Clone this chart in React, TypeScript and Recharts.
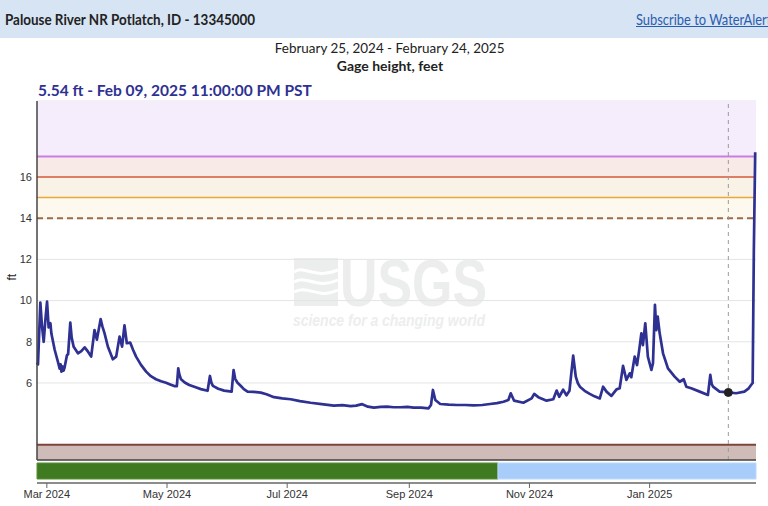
import React from 'react';
import {
  LineChart,
  Line,
  XAxis,
  YAxis,
  CartesianGrid,
  ReferenceArea,
  ReferenceLine,
  ReferenceDot,
  ComposedChart,
} from 'recharts';

// Period shown: February 25, 2024 (day 0) to February 24, 2025 (day 365)
const START_DATE = '2024-02-25';
const END_DAY = 365;

// Gage height readings (day offset from START_DATE, feet)
const dayOffsets = [
  0, 0.5, 1.7, 2.5, 3.4, 4.2, 5.1, 5.9, 6.8, 7.3, 9.0, 10.7, 11.5, 12.0, 12.4, 13.0, 13.5, 14.0,
  15.2, 15.8, 16.9, 17.6, 18.6, 20.8, 22.5, 24.2, 25.9, 27.5, 29.2, 30.4, 32.3, 33.2, 34.3, 36.0,
  38.5, 40.2, 41.9, 43.2, 44.4, 45.6, 47.3, 48.8, 50.3, 52.8, 55.4, 57.8, 60.4, 63.0, 65.5, 67.6,
  69.7, 71.0, 71.7, 72.3, 73.1, 75.0, 77.3, 80.2, 83.2, 86.6, 87.8, 88.5, 89.3, 92.0, 95.0, 98.8,
  99.8, 100.6, 101.8, 103.5, 105.0, 106.9, 110.0, 113.6, 116.5, 120.3, 124.5, 128.8, 133.5,
  138.9, 144.5, 150.7, 155.0, 159.2, 162.0, 165.1, 168.0, 171.0, 174.5, 177.7, 181.0, 184.5,
  188.0, 191.2, 195.0, 198.8, 200.0, 201.0, 202.2, 204.7, 209.0, 213.2, 217.5, 221.6, 226.0,
  230.0, 233.5, 236.8, 239.3, 240.5, 242.2, 246.9, 251.1, 252.4, 254.5, 258.7, 262.1, 263.8,
  265.1, 267.1, 268.8, 270.3, 272.2, 273.5, 274.5, 275.6, 278.0, 280.6, 283.0, 285.7, 287.4,
  289.1, 291.6, 294.2, 295.8, 297.5, 299.2, 300.9, 301.7, 303.4, 304.6, 305.6, 306.8, 307.6,
  308.8, 310.1, 311.9, 312.7, 313.7, 314.4, 315.1, 316.1, 317.8, 320.3, 323.7, 326.3, 328.3,
  329.6, 332.1, 336.4, 340.6, 341.8, 342.5, 343.2, 346.5, 350.96, 354.9, 359.1, 361.3, 362.5,
  363.3, 363.9, 364.6,
];
const gageFt = [
  7.0, 6.9, 9.9, 8.8, 8.0, 9.0, 9.95, 8.7, 8.9, 8.4, 7.6, 7.0, 6.7, 6.9, 6.55, 6.8, 6.6, 6.75,
  7.35, 7.4, 8.93, 8.2, 7.76, 7.44, 7.55, 7.73, 7.52, 7.28, 8.57, 8.1, 9.1, 8.75, 8.41, 7.76,
  7.15, 7.28, 8.25, 7.76, 8.8, 7.93, 7.96, 7.6, 7.28, 6.88, 6.55, 6.33, 6.18, 6.08, 6.01, 5.93,
  5.85, 5.85, 6.71, 6.4, 6.18, 6.02, 5.9, 5.8, 5.7, 5.62, 6.34, 6.02, 5.86, 5.72, 5.63, 5.58,
  6.63, 6.2, 6.01, 5.85, 5.7, 5.58, 5.57, 5.53, 5.45, 5.31, 5.25, 5.21, 5.12,
  5.04, 4.97, 4.9, 4.92, 4.88, 4.9, 4.97, 4.85, 4.8, 4.84, 4.85, 4.82, 4.82,
  4.84, 4.8, 4.8, 4.77, 4.93, 5.66, 5.17, 4.98, 4.95, 4.93, 4.93, 4.91, 4.93,
  4.98, 5.02, 5.09, 5.17, 5.5, 5.14, 5.04, 5.25, 5.47, 5.31, 5.14, 5.21, 5.63,
  5.33, 5.67, 5.4, 5.62, 7.33, 6.31, 6.0, 5.82, 5.62, 5.47, 5.35, 5.25, 5.82,
  5.58, 5.37, 5.69, 5.74, 6.83, 6.15, 6.47, 6.28, 7.28, 6.87, 7.52, 8.41, 7.84,
  8.9, 7.28, 6.63, 6.96, 9.79, 8.57, 9.22, 8.41, 7.44, 6.71, 6.31, 6.06, 6.18,
  5.82, 5.74, 5.58, 5.42, 6.39, 5.95, 5.82, 5.58, 5.54, 5.5, 5.58, 5.74, 5.9,
  6.0, 12.4, 17.2,
];

// Axis ticks
const xTickDays = [5, 66, 127, 189, 250, 311];
const xTickLabels = ['Mar 2024', 'May 2024', 'Jul 2024', 'Sep 2024', 'Nov 2024', 'Jan 2025'];
const yTicks = [6, 8, 10, 12, 14, 16];
const Y_MIN = 2.26;
const Y_MAX = 19.69;

// Flood thresholds (ft)
const majorFlood = 17;
const moderateFlood = 16;
const minorFlood = 15;
const actionStage = 14;
const lowStage = 3;

// Selected point
const cursorDay = 350.96;
const cursorFt = 5.54;

// Approval status segments (day offsets)
const approvalFrom = [0, 234];
const approvalTo = [234, END_DAY];
const approvalStatus = ['Approved', 'Provisional'];
const approvalColors = ['#3f7a20', '#a9cdfb'];
const approvalEdges = ['#5a8f3a', '#bcd8fc'];

const lineData = dayOffsets.map((d, i) => ({ day: d, ft: gageFt[i] }));
const stripData = [
  { day: 0, v: 0.5 },
  { day: END_DAY, v: 0.5 },
];

const tickFont = { fontFamily: '"Liberation Sans", Arial, sans-serif', fontSize: 11, fill: '#333' };

function Watermark() {
  const c = '#eceeed';
  return (
    <svg
      width={200}
      height={80}
      style={{ position: 'absolute', left: 292, top: 254, zIndex: 0 }}
    >
      <rect x={2} y={4} width={44} height={48} fill={c} />
      <path d="M2 18 C12 10, 22 26, 46 16" stroke="#fff" strokeWidth={3} fill="none" />
      <path d="M2 28 C14 20, 24 36, 46 26" stroke="#fff" strokeWidth={3} fill="none" />
      <path d="M2 38 C16 30, 26 46, 46 36" stroke="#fff" strokeWidth={3} fill="none" />
      <text
        x={48}
        y={52}
        fontFamily='"Liberation Sans", Arial, sans-serif'
        fontWeight="bold"
        fontSize={66}
        fill={c}
        textLength={147}
        lengthAdjust="spacingAndGlyphs"
      >
        USGS
      </text>
      <text
        x={1}
        y={72}
        fontFamily='"Liberation Sans", Arial, sans-serif'
        fontWeight="bold"
        fontStyle="italic"
        fontSize={16}
        fill={c}
        textLength={192}
        lengthAdjust="spacingAndGlyphs"
      >
        science for a changing world
      </text>
    </svg>
  );
}

export default function App() {
  return (
    <div
      style={{
        position: 'absolute',
        left: 0,
        top: 0,
        width: 768,
        height: 506,
        background: '#fff',
        overflow: 'hidden',
        fontFamily: 'Lato, "Open Sans", sans-serif',
      }}
    >
      <div
        style={{
          position: 'absolute',
          left: 0,
          top: 0,
          width: 768,
          height: 38,
          background: '#d7e4f3',
        }}
      />
      <div
        style={{
          position: 'absolute',
          left: 5,
          top: 10,
          fontSize: 15,
          fontWeight: 700,
          color: '#222',
          whiteSpace: 'nowrap',
          transform: 'scaleX(0.895)',
          transformOrigin: 'left center',
        }}
      >
        Palouse River NR Potlatch, ID - 13345000
      </div>
      <div
        style={{
          position: 'absolute',
          left: 636,
          top: 10,
          fontSize: 15,
          color: '#2a5db0',
          textDecoration: 'underline',
          whiteSpace: 'nowrap',
          transform: 'scaleX(0.86)',
          transformOrigin: 'left center',
        }}
      >
        Subscribe to WaterAlert
      </div>
      <div
        style={{
          position: 'absolute',
          left: 0,
          width: 780,
          top: 39,
          textAlign: 'center',
          fontSize: 14,
          color: '#222',
        }}
      >
        <span style={{ display: 'inline-block', transform: 'scaleX(0.96)' }}>
          February 25, 2024 - February 24, 2025
        </span>
      </div>
      <div
        style={{
          position: 'absolute',
          left: 0,
          width: 780,
          top: 57,
          textAlign: 'center',
          fontSize: 14,
          fontWeight: 700,
          color: '#222',
        }}
      >
        Gage height, feet
      </div>
      <div
        style={{
          position: 'absolute',
          left: 38,
          top: 81,
          fontSize: 15.5,
          fontWeight: 700,
          color: '#2e3192',
          whiteSpace: 'nowrap',
        }}
      >
        5.54 ft - Feb 09, 2025 11:00:00 PM PST
      </div>

      <Watermark />

      <div style={{ position: 'absolute', left: 0, top: 0, zIndex: 1 }}>
        <LineChart
          width={768}
          height={462}
          data={lineData}
          margin={{ top: 101, right: 12, bottom: 0, left: 0 }}
        >
          <ReferenceArea y1={majorFlood} y2={Y_MAX} fill="#f5ecfc" fillOpacity={1} ifOverflow="hidden" />
          <ReferenceArea y1={moderateFlood} y2={majorFlood} fill="#f8ebe7" fillOpacity={1} ifOverflow="hidden" />
          <ReferenceArea y1={minorFlood} y2={moderateFlood} fill="#f9f2e6" fillOpacity={1} ifOverflow="hidden" />
          <ReferenceArea y1={actionStage} y2={minorFlood} fill="#fdf9ee" fillOpacity={1} ifOverflow="hidden" />
          <ReferenceArea y1={Y_MIN} y2={lowStage} fill="#cfbcb9" fillOpacity={1} ifOverflow="hidden" />
          <CartesianGrid vertical={false} stroke="#e4e4e4" />
          <XAxis
            dataKey="day"
            type="number"
            domain={[0, END_DAY]}
            tick={false}
            tickLine={false}
            height={2}
            axisLine={{ stroke: '#444', strokeWidth: 1.5 }}
          />
          <YAxis
            type="number"
            domain={[Y_MIN, Y_MAX]}
            allowDataOverflow
            ticks={yTicks}
            width={37}
            tickLine={false}
            tickSize={0}
            tickMargin={5}
            tick={tickFont}
            axisLine={{ stroke: '#444', strokeWidth: 1.5 }}
            label={{
              value: 'ft',
              angle: -90,
              position: 'insideLeft',
              offset: 12,
              style: { fontFamily: '"Liberation Sans", Arial, sans-serif', fontSize: 12, fill: '#222' },
            }}
          />
          <ReferenceLine y={majorFlood} stroke="#c77ee6" strokeWidth={2} />
          <ReferenceLine y={moderateFlood} stroke="#d4583a" strokeWidth={1.5} />
          <ReferenceLine y={minorFlood} stroke="#e8a83a" strokeWidth={1.5} />
          <ReferenceLine y={actionStage} stroke="#9b6a42" strokeWidth={2} strokeDasharray="6 4" />
          <ReferenceLine y={lowStage} stroke="#7c4537" strokeWidth={2} />
          <ReferenceLine x={cursorDay} stroke="#9a9a9a" strokeWidth={1} strokeDasharray="4 4" />
          <Line
            type="linear"
            dataKey="ft"
            stroke="#2e3192"
            strokeWidth={2.7}
            strokeLinejoin="round"
            dot={false}
            isAnimationActive={false}
          />
          <ReferenceDot x={cursorDay} y={cursorFt} r={4} fill="#222" stroke="#222" />
        </LineChart>
      </div>

      <div style={{ position: 'absolute', left: 0, top: 455, zIndex: 1 }}>
        <ComposedChart
          width={768}
          height={51}
          data={stripData}
          margin={{ top: 8, right: 12, bottom: 0, left: 37 }}
        >
          <XAxis
            dataKey="day"
            type="number"
            domain={[0, END_DAY]}
            ticks={xTickDays}
            tickFormatter={(v: number) => xTickLabels[xTickDays.indexOf(v)] ?? ''}
            height={23}
            tickSize={5}
            tickMargin={2}
            tick={tickFont}
            tickLine={{ stroke: '#666' }}
            axisLine={{ stroke: '#666', strokeWidth: 1.5 }}
            interval={0}
          />
          <YAxis type="number" domain={[0, 1]} width={0} hide />
          {approvalFrom.map((f, i) => (
            <ReferenceArea
              key={approvalStatus[i]}
              x1={f}
              x2={approvalTo[i]}
              y1={0.2}
              y2={1}
              fill={approvalColors[i]}
              fillOpacity={1}
              stroke={approvalEdges[i]}
              ifOverflow="visible"
            />
          ))}
          <Line
            dataKey="v"
            stroke="none"
            dot={false}
            activeDot={false}
            isAnimationActive={false}
          />
        </ComposedChart>
      </div>
    </div>
  );
}
